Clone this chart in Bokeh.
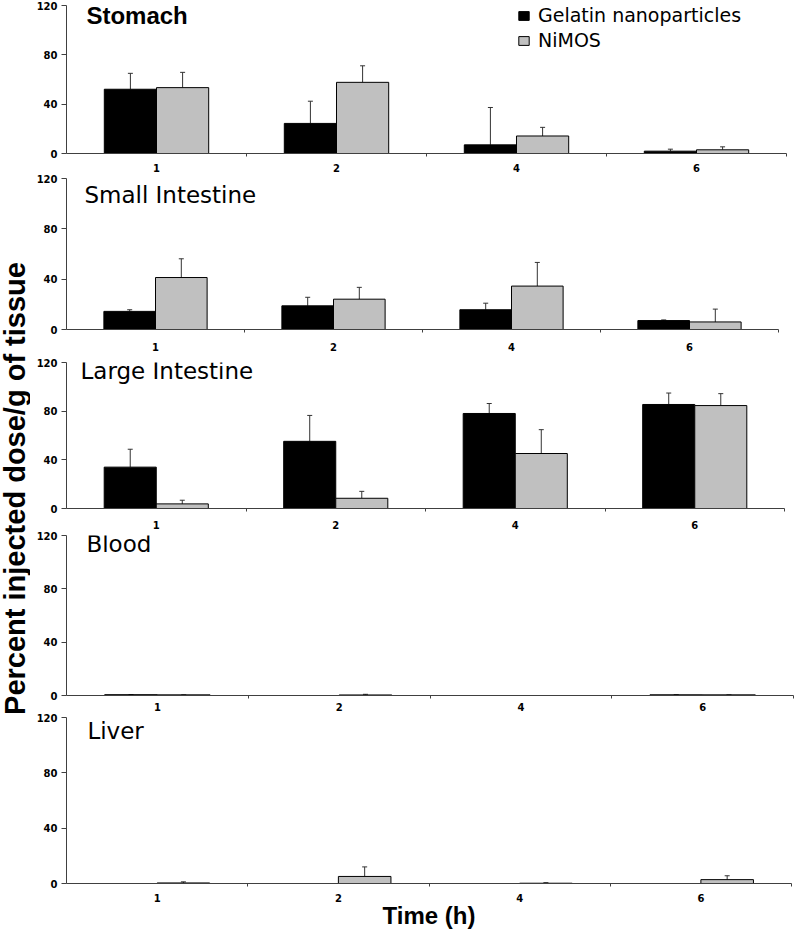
import numpy as np
from bokeh.plotting import figure
from bokeh.models import Range1d, FixedTicker, ColumnDataSource, Whisker, TeeHead, Label
from bokeh.layouts import row, column
from bokeh.core.properties import value
from bokeh.embed import file_html
from bokeh.resources import INLINE

# ---------------- data ----------------
times = ["1", "2", "4", "6"]
y_ticks = [0, 40, 80, 120]
series_names = ["Gelatin nanoparticles", "NiMOS"]
y_title = "Percent injected dose/g of tissue"
x_title = "Time (h)"

organs = ["Stomach", "Small Intestine", "Large Intestine", "Blood", "Liver"]

gel_stomach = [52.1, 24.4, 7.0, 1.9]
gel_stomach_sd = [12.9, 18.0, 30.3, 1.6]
nimos_stomach = [53.4, 57.7, 14.2, 3.0]
nimos_stomach_sd = [12.4, 13.4, 7.0, 2.4]

gel_small = [14.4, 18.8, 15.7, 7.1]
gel_small_sd = [1.3, 6.8, 5.2, 0.5]
nimos_small = [41.3, 24.1, 34.5, 6.0]
nimos_small_sd = [14.9, 9.4, 18.8, 10.2]

gel_large = [34.0, 55.2, 78.1, 85.5]
gel_large_sd = [14.7, 21.3, 8.2, 9.4]
nimos_large = [3.8, 8.4, 45.2, 84.6]
nimos_large_sd = [3.0, 5.7, 19.6, 9.8]

gel_blood = [0.6, 0.0, 0.0, 0.5]
gel_blood_sd = [0.1, 0.0, 0.0, 0.1]
nimos_blood = [0.5, 0.4, 0.0, 0.5]
nimos_blood_sd = [0.1, 0.5, 0.0, 0.1]

gel_liver = [0.0, 0.0, 0.0, 0.0]
gel_liver_sd = [0.0, 0.0, 0.0, 0.0]
nimos_liver = [0.4, 5.1, 0.2, 2.8]
nimos_liver_sd = [0.8, 6.9, 0.4, 2.8]

panel_data = [
    (gel_stomach, gel_stomach_sd, nimos_stomach, nimos_stomach_sd),
    (gel_small, gel_small_sd, nimos_small, nimos_small_sd),
    (gel_large, gel_large_sd, nimos_large, nimos_large_sd),
    (gel_blood, gel_blood_sd, nimos_blood, nimos_blood_sd),
    (gel_liver, gel_liver_sd, nimos_liver, nimos_liver_sd),
]

# ---------------- layout (page pixels) ----------------
LABEL_W = 30   # width of the figure holding the vertical title
X0 = 34        # observed page x where the panel figures start
# fig_top, frame_top, zero, fig_bottom, frame_left, frame_right, xlabel_standoff
geo = [
    (0, 5, 154, 174, 66, 790, 7),
    (174, 178, 330, 353, 66, 782, 10),
    (353, 362, 509, 531, 70, 788, 9),
    (531, 535, 696, 713, 66, 797, 4),
    (713, 717, 883, 931, 66, 795, 7),
]
# title: page x, page baseline y, font, size, style
title_style = [
    (86, 15, "Liberation Sans", "24px", "bold"),
    (84, 195, "DejaVu Sans", "23px", "normal"),
    (84, 371, "DejaVu Sans", "23px", "normal"),
    (86, 544, "DejaVu Sans", "23px", "normal"),
    (87, 730, "DejaVu Sans", "23px", "normal"),
]

AXIS_COLOR = "#404040"
ERR_COLOR = "#333333"
GRAY = "#c0c0c0"
BW = 0.29
n = len(times)


def make_panel(i):
    ft, tt, zb, fb, fl, fr, std = geo[i]
    gel, gel_sd, nim, nim_sd = panel_data[i]
    p = figure(width=fr - X0 + 1, height=fb - ft,
               x_range=Range1d(0, n), y_range=Range1d(0, 120),
               output_backend="svg", toolbar_location=None, title=None,
               min_border_left=fl - X0, min_border_right=1,
               min_border_top=tt - ft, min_border_bottom=fb - zb)
    p.grid.visible = False
    p.outline_line_color = None
    p.background_fill_color = "white"
    p.border_fill_color = "white"

    scale_y = (zb - tt) / 120.0
    scale_x = (fr - fl) / float(n)

    def dy(page_y):
        return (zb - page_y) / scale_y

    def dx(page_x):
        return (page_x - fl) / scale_x

    centers = np.arange(n) + 0.5
    xg = centers - BW / 2
    xn = centers + BW / 2

    kg, kn = {}, {}
    if i == 0:
        kg["legend_label"] = series_names[0]
        kn["legend_label"] = series_names[1]
    p.vbar(x=xg, top=gel, bottom=0, width=BW, fill_color="black",
           line_color="black", line_width=1, **kg)
    p.vbar(x=xn, top=nim, bottom=0, width=BW, fill_color=GRAY,
           line_color="black", line_width=1, **kn)

    ex, lo, up = [], [], []
    for xs, vals, sds in ((xg, gel, gel_sd), (xn, nim, nim_sd)):
        for xx, v, s in zip(xs, vals, sds):
            if s > 0:
                ex.append(float(xx)); lo.append(v); up.append(v + s)
    wsrc = ColumnDataSource(dict(base=ex, lower=lo, upper=up))
    p.add_layout(Whisker(base="base", lower="lower", upper="upper", source=wsrc,
                         dimension="height", line_color=ERR_COLOR, line_width=1,
                         lower_head=None,
                         upper_head=TeeHead(size=5, line_color=ERR_COLOR, line_width=1)))

    # x axis
    ax = p.xaxis[0]
    ax.ticker = FixedTicker(ticks=[float(c) for c in centers],
                            minor_ticks=[float(k) for k in range(1, n + 1)])
    ax.major_label_overrides = {float(c): t for c, t in zip(centers, times)}
    ax.major_tick_line_color = None
    ax.major_tick_out = 3
    ax.major_tick_in = 0
    ax.minor_tick_out = 3
    ax.minor_tick_in = 0
    ax.minor_tick_line_color = AXIS_COLOR
    ax.axis_line_color = AXIS_COLOR
    ax.axis_line_width = 1
    ax.major_label_text_font = "DejaVu Sans"
    ax.major_label_text_font_style = "bold"
    ax.major_label_text_font_size = "10px"
    ax.major_label_text_color = "black"
    ax.major_label_standoff = std

    # y axis
    ay = p.yaxis[0]
    ay.ticker = FixedTicker(ticks=y_ticks)
    ay.minor_tick_line_color = None
    ay.major_tick_out = 5
    ay.major_tick_in = 0
    ay.major_tick_line_color = AXIS_COLOR
    ay.axis_line_color = AXIS_COLOR
    ay.axis_line_width = 1
    ay.major_label_text_font = "DejaVu Sans"
    ay.major_label_text_font_style = "bold"
    ay.major_label_text_font_size = "10px"
    ay.major_label_text_color = "black"
    ay.major_label_standoff = 4

    tx, ty, tf, ts, tst = title_style[i]
    p.add_layout(Label(x=dx(tx), y=dy(ty), x_units="data", y_units="data",
                       text=organs[i], text_font=tf, text_font_size=ts,
                       text_font_style=tst, text_color="black",
                       text_baseline="alphabetic", text_align="left"))

    if i == 0:
        lg = p.legend[0]
        lg.location = (517 - fl, 102)
        lg.border_line_color = None
        lg.background_fill_alpha = 0
        lg.padding = 0
        lg.margin = 0
        lg.spacing = 3
        lg.label_height = 22
        lg.glyph_height = 11
        lg.glyph_width = 13
        lg.label_standoff = 8
        lg.label_text_font = "DejaVu Sans"
        lg.label_text_font_size = "19px"
        lg.label_text_color = "black"

    if i == len(organs) - 1:
        ax.axis_label = x_title
        ax.axis_label_text_font = "Liberation Sans"
        ax.axis_label_text_font_size = "24px"
        ax.axis_label_text_font_style = "bold"
        ax.axis_label_text_color = "black"
        ax.axis_label_standoff = -3
    return p


panels = [make_panel(i) for i in range(len(organs))]

H = sum(g[3] - g[0] for g in geo)
lf = figure(width=LABEL_W, height=H, x_range=Range1d(0, LABEL_W),
            y_range=Range1d(0, H), output_backend="svg", toolbar_location=None,
            title=None, x_axis_type=None, y_axis_type=None, min_border=0)
lf.outline_line_color = None
lf.grid.visible = False
lf.text(x=[14], y=[H - 488], text=[y_title], angle=np.pi / 2,
        text_align="center", text_baseline="middle",
        text_font=value("Liberation Sans"), text_font_style="bold",
        text_font_size="29px", text_color="black")

layout = row(lf, column(*panels))
open("out.html", "w").write(file_html(layout, INLINE))
